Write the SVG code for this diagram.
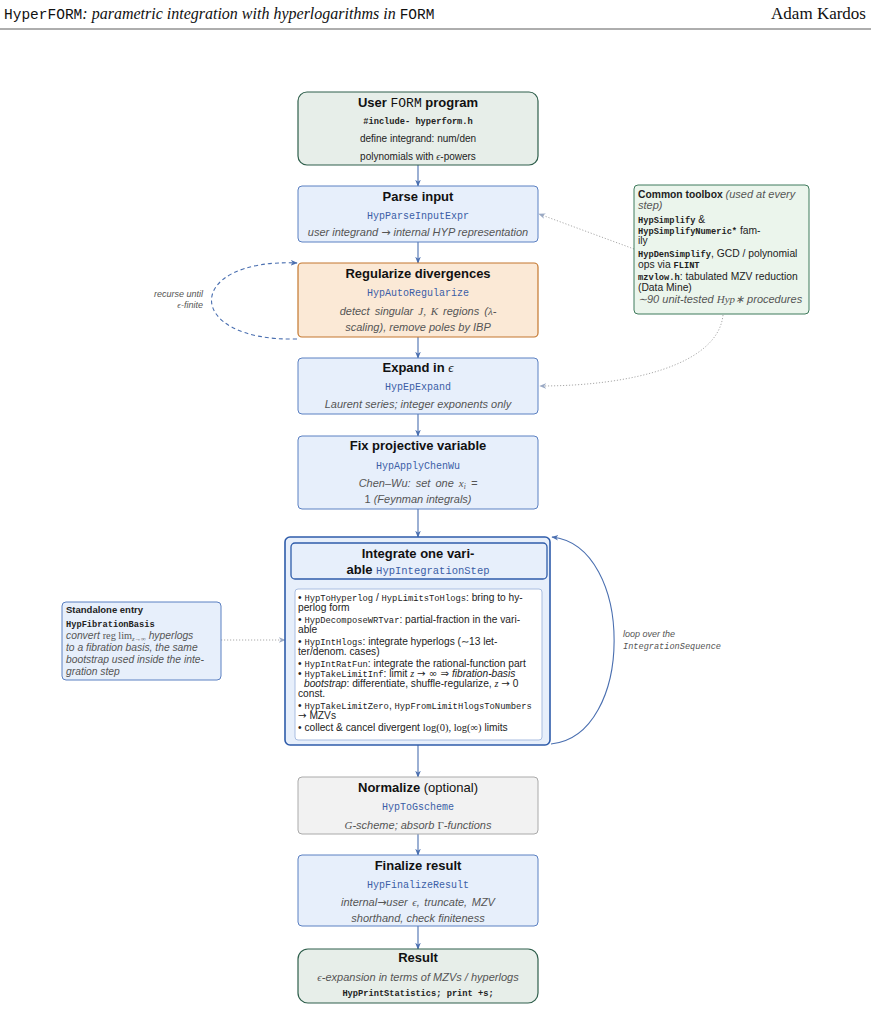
<svg xmlns="http://www.w3.org/2000/svg" width="871" height="1011" viewBox="0 0 871 1011">
<style>
.hdr{font-family:"Liberation Serif",serif;fill:#111}
.tm{font-family:"Liberation Mono",monospace;font-style:normal}
.title{font-family:"Liberation Sans",Arial,sans-serif;font-weight:bold;font-size:13px;fill:#111;text-anchor:middle}
.code{font-family:"Liberation Mono",monospace;font-size:10px;fill:#3b5ea6;text-anchor:middle}
.desc{font-family:"Liberation Sans",Arial,sans-serif;font-style:italic;font-size:11px;fill:#555;text-anchor:middle}
.small{font-family:"Liberation Sans",Arial,sans-serif;font-size:10px;fill:#222;text-anchor:middle}
.smono{font-family:"Liberation Mono",monospace;font-weight:bold;font-size:8.7px;fill:#222}
.li{font-family:"Liberation Sans",Arial,sans-serif;font-size:10.2px;fill:#222}
.lm{font-family:"Liberation Mono",monospace;font-size:8.8px}
.it{font-style:italic}
.mi{font-family:"Liberation Serif",serif;font-style:italic}
.ar{font-family:"DejaVu Sans",sans-serif;font-style:normal}
.box{font-family:"Liberation Sans",Arial,sans-serif;font-size:10.3px;fill:#222}
.bm{font-family:"Liberation Mono",monospace;font-weight:bold;font-size:8.7px}
.gi{font-style:italic;fill:#555}
.lbl{font-family:"Liberation Sans",Arial,sans-serif;font-style:italic;font-size:9px;fill:#555}
.green{fill:#e7eee9;stroke:#2f5f4c;stroke-width:1.2}
.blue{fill:#e7effb;stroke:#5b80c2;stroke-width:1}
.orange{fill:#fbe9d6;stroke:#c4772e;stroke-width:1.2}
.gray{fill:#f2f2f2;stroke:#aaaaaa;stroke-width:1}
.flow{stroke:#4a6fb0;stroke-width:1.1;fill:none;marker-end:url(#ah)}
.dot{stroke:#aaaaaa;stroke-width:1;stroke-dasharray:1.2 1.8;fill:none;marker-end:url(#ahg)}
</style>
<defs>
<marker id="ah" viewBox="0 0 10 10" refX="9" refY="5" markerWidth="7" markerHeight="7" orient="auto" markerUnits="userSpaceOnUse">
<path d="M0,1 L10,5 L0,9 L3,5 Z" fill="#4a6fb0"/>
</marker>
<marker id="ahg" viewBox="0 0 10 10" refX="9" refY="5" markerWidth="7" markerHeight="7" orient="auto" markerUnits="userSpaceOnUse">
<path d="M0,1 L10,5 L0,9 L3,5 Z" fill="#9aa9c4"/>
</marker>
</defs>
<rect width="871" height="1011" fill="#ffffff"/>

<g id="header">
<text x="4" y="19" class="hdr" style="font-size:16px"><tspan class="tm" style="font-size:14.5px">HyperFORM</tspan><tspan font-style="italic">: parametric integration with hyperlogarithms in </tspan><tspan class="tm" style="font-size:14.5px">FORM</tspan></text>
<text x="866" y="19" class="hdr" text-anchor="end" style="font-size:17px">Adam Kardos</text>
<line x1="0" y1="29" x2="871" y2="29" stroke="#333" stroke-width="0.8"/>
</g>

<g id="connectors">
<line x1="418" y1="165" x2="418" y2="186" class="flow"/>
<line x1="418" y1="242" x2="418" y2="263" class="flow"/>
<line x1="418" y1="337" x2="418" y2="358" class="flow"/>
<line x1="418" y1="414" x2="418" y2="436" class="flow"/>
<line x1="418" y1="509" x2="418" y2="537" class="flow"/>
<line x1="418" y1="745" x2="418" y2="777" class="flow"/>
<line x1="418" y1="834" x2="418" y2="855" class="flow"/>
<line x1="418" y1="926" x2="418" y2="949" class="flow"/>
<path d="M297,339 C183,342 183,258 297,263" class="flow" stroke-dasharray="4 3"/>
<path d="M551,744 C635,736 635,546 552,537" class="flow"/>
<line x1="634" y1="249" x2="539" y2="214" class="dot"/>
<path d="M723,315 C718,365 630,386 540,386" class="dot"/>
<line x1="221" y1="640" x2="285" y2="640" class="dot"/>
<text x="203" y="297" class="lbl" text-anchor="end">recurse until</text>
<text x="203" y="308" class="lbl" text-anchor="end"><tspan class="mi">ϵ</tspan>-finite</text>
<text x="623" y="637" class="lbl">loop over the</text>
<text x="623" y="649" class="lbl" style="font-family:'Liberation Mono',monospace;font-size:8.6px">IntegrationSequence</text>
</g>

<g id="user-program">
<rect x="298" y="92" width="240" height="73" rx="9" class="green"/>
<text x="418" y="107" class="title">User <tspan class="tm" font-weight="normal">FORM</tspan> program</text>
<text x="418" y="124" class="smono" text-anchor="middle">#include- hyperform.h</text>
<text x="418" y="142" class="small">define integrand:  num/den</text>
<text x="418" y="160" class="small">polynomials with <tspan class="mi">ϵ</tspan>-powers</text>
</g>

<g id="parse-input">
<rect x="298" y="186" width="240" height="56" rx="4" class="blue"/>
<text x="418" y="201" class="title">Parse input</text>
<text x="418" y="219" class="code">HypParseInputExpr</text>
<text x="418" y="236" class="desc">user integrand <tspan class="ar">→</tspan> internal HYP representation</text>
</g>

<g id="regularize">
<rect x="298" y="263" width="240" height="74" rx="4" class="orange"/>
<text x="418" y="278" class="title">Regularize divergences</text>
<text x="418" y="296" class="code">HypAutoRegularize</text>
<text x="418" y="315" class="desc" word-spacing="2">detect singular <tspan class="mi">J, K</tspan> regions (<tspan class="mi">λ</tspan>-</text>
<text x="418" y="331" class="desc">scaling), remove poles by IBP</text>
</g>

<g id="expand">
<rect x="298" y="358" width="240" height="56" rx="4" class="blue"/>
<text x="418" y="372" class="title">Expand in <tspan class="mi" font-weight="normal">ϵ</tspan></text>
<text x="418" y="390" class="code">HypEpExpand</text>
<text x="418" y="408" class="desc">Laurent series; integer exponents only</text>
</g>

<g id="fix-projective">
<rect x="298" y="436" width="240" height="73" rx="4" class="blue"/>
<text x="418" y="450" class="title">Fix projective variable</text>
<text x="418" y="469" class="code">HypApplyChenWu</text>
<text x="418" y="487" class="desc" word-spacing="2">Chen–Wu:  set one <tspan class="mi">x<tspan style="font-size:7.5px" dy="2">i</tspan></tspan><tspan dy="-2">   =</tspan></text>
<text x="418" y="503" class="desc"><tspan font-style="normal">1</tspan> (Feynman integrals)</text>
</g>

<g id="integrate">
<rect x="285" y="537" width="265" height="208" rx="5" fill="#e7effb" stroke="#2f5caa" stroke-width="1.6"/>
<rect x="291" y="543" width="256" height="36" rx="4" fill="#e7effb" stroke="#2f5caa" stroke-width="1.3"/>
<text x="418" y="558" class="title">Integrate one vari-</text>
<text x="418" y="574" class="title">able  <tspan class="code" font-weight="normal" style="font-size:10.5px">HypIntegrationStep</tspan></text>
<rect x="295" y="589" width="247" height="151" rx="3" fill="#ffffff" stroke="#a9bde0" stroke-width="1"/>
<text x="298" y="601" class="li">• <tspan class="lm">HypToHyperlog</tspan> / <tspan class="lm">HypLimitsToHlogs</tspan>:  bring to hy-</text>
<text x="298" y="611" class="li">perlog form</text>
<text x="298" y="623" class="li">• <tspan class="lm">HypDecomposeWRTvar</tspan>:  partial-fraction in the vari-</text>
<text x="298" y="633" class="li">able</text>
<text x="298" y="645" class="li">• <tspan class="lm">HypIntHlogs</tspan>:  integrate hyperlogs (∼13 let-</text>
<text x="298" y="655" class="li">ter/denom. cases)</text>
<text x="298" y="667" class="li">• <tspan class="lm">HypIntRatFun</tspan>:  integrate the rational-function part</text>
<text x="298" y="677" class="li">• <tspan class="lm">HypTakeLimitInf</tspan>:  limit <tspan class="mi">z</tspan> <tspan class="ar">→ ∞ ⇒</tspan> <tspan class="it">fibration-basis</tspan></text>
<text x="304" y="687" class="li"><tspan class="it">bootstrap</tspan>: differentiate, shuffle-regularize, <tspan class="mi">z</tspan> <tspan class="ar">→</tspan> 0</text>
<text x="298" y="697" class="li">const.</text>
<text x="298" y="709" class="li">• <tspan class="lm">HypTakeLimitZero</tspan>, <tspan class="lm">HypFromLimitHlogsToNumbers</tspan></text>
<text x="298" y="719" class="li"><tspan class="ar">→</tspan> MZVs</text>
<text x="298" y="731" class="li">• collect &amp; cancel divergent <tspan style="font-family:'Liberation Serif',serif;font-size:10.5px">log(0), log(∞)</tspan> limits</text>
</g>

<g id="standalone">
<rect x="62" y="602" width="159" height="78" rx="4" class="blue"/>
<text x="66" y="613" class="box" style="font-weight:bold;font-size:9.5px">Standalone entry</text>
<text x="66" y="627" class="box"><tspan class="bm">HypFibrationBasis</tspan></text>
<text x="66" y="639" class="box gi" style="font-size:10.3px">convert <tspan style="font-family:'Liberation Serif',serif;font-style:normal">reg lim</tspan><tspan style="font-size:6.5px" dy="1.5" class="mi">z→∞</tspan><tspan dy="-1.5"> hyperlogs</tspan></text>
<text x="66" y="651" class="box gi" style="font-size:10.3px">to a fibration basis, the same</text>
<text x="66" y="663" class="box gi" style="font-size:10.3px">bootstrap used inside the inte-</text>
<text x="66" y="675" class="box gi" style="font-size:10.3px">gration step</text>
</g>

<g id="toolbox">
<rect x="634" y="185" width="175" height="129" rx="4" fill="#ebf5ec" stroke="#3f7a5c" stroke-width="1"/>
<text x="638" y="198" class="box"><tspan font-weight="bold">Common toolbox</tspan> <tspan class="gi" style="font-size:11px">(used at every</tspan></text>
<text x="638" y="209" class="box gi" style="font-size:11px">step)</text>
<text x="638" y="223" class="box"><tspan class="bm">HypSimplify</tspan> &amp;</text>
<text x="638" y="234" class="box"><tspan class="bm">HypSimplifyNumeric*</tspan> fam-</text>
<text x="638" y="244" class="box">ily</text>
<text x="638" y="257" class="box"><tspan class="bm">HypDenSimplify</tspan>, GCD / polynomial</text>
<text x="638" y="268" class="box">ops via <tspan class="bm">FLINT</tspan></text>
<text x="638" y="280" class="box"><tspan class="bm">mzvlow.h</tspan>: tabulated MZV reduction</text>
<text x="638" y="291" class="box">(Data Mine)</text>
<text x="638" y="303" class="box gi" style="font-size:11px">∼90 unit-tested <tspan class="mi">Hyp∗</tspan> procedures</text>
</g>

<g id="normalize">
<rect x="298" y="777" width="240" height="57" rx="4" class="gray"/>
<text x="418" y="792" class="title">Normalize <tspan font-weight="normal">(optional)</tspan></text>
<text x="418" y="810" class="code">HypToGscheme</text>
<text x="418" y="829" class="desc"><tspan class="mi">G</tspan>-scheme; absorb <tspan style="font-family:'Liberation Serif',serif;font-style:normal">Γ</tspan>-functions</text>
</g>

<g id="finalize">
<rect x="298" y="855" width="240" height="71" rx="4" class="blue"/>
<text x="418" y="870" class="title">Finalize result</text>
<text x="418" y="888" class="code">HypFinalizeResult</text>
<text x="418" y="906" class="desc" word-spacing="1.5">internal<tspan class="ar">→</tspan>user <tspan class="mi">ϵ</tspan>, truncate, MZV</text>
<text x="418" y="922" class="desc">shorthand, check finiteness</text>
</g>

<g id="result">
<rect x="298" y="949" width="240" height="54" rx="10" class="green"/>
<text x="418" y="962" class="title">Result</text>
<text x="418" y="981" class="desc"><tspan class="mi">ϵ</tspan>-expansion in terms of MZVs / hyperlogs</text>
<text x="418" y="996" class="smono" text-anchor="middle">HypPrintStatistics; print +s;</text>
</g>
</svg>
